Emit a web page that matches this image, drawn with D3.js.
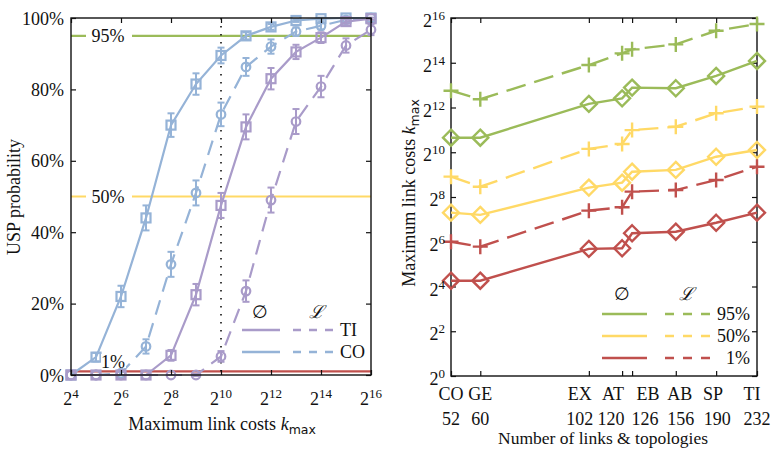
<!DOCTYPE html>
<html><head><meta charset="utf-8">
<script src="https://cdn.jsdelivr.net/npm/d3@7"></script>
<style>
body{margin:0;background:#fff;}
</style></head><body>
<svg id="c" width="774" height="449" font-family="'Liberation Serif','DejaVu Serif','Times New Roman',serif"></svg>
<script>
// ---------- Left chart data ----------
const kExp = [4,5,6,7,8,9,10,11,12,13,14,15,16];          // log2 of k_max
const leftXTicks = [4,6,8,10,12,14,16];
const leftYTicks = [0,20,40,60,80,100];
const coEmpty    = [0,5,22,44,70,81.5,89.5,95,97.5,99.3,99.8,100,100];
const coEmptyErr = [0,1.2,3,3.5,3.3,3,2.2,1,0.8,0.4,0.3,0.2,0.2];
const coL        = [0,0,0.5,8,31,51,73,86.3,92,96.2,97.8,99.5,100];
const coLErr     = [0,0,0.5,2,3.5,3.5,3.3,2.5,2,1.2,1,0.5,0.2];
const tiEmpty    = [0,0,0,0,5.5,22.5,47.5,69.5,83,90.5,94.5,99,99.8];
const tiEmptyErr = [0,0,0,0,1.5,3,3.5,3.5,3,2,1.5,0.6,0.3];
const tiL        = [0,0,0,0,0,0,5.2,23.5,49,71,80.8,92.3,96.7];
const tiLErr     = [0,0,0,0,0,0.3,1.5,3,3.5,3.5,3,2,1.5];
const refLevels  = [95,50,1];
const refLabels  = ["95%","50%","1%"];

// ---------- Right chart data ----------
const topoNames = ["CO","GE","EX","AT","EB","AB","SP","TI"];
const topoLinks = [52,60,102,120,126,156,190,232];
const rightYTicks = [0,2,4,6,8,10,12,14,16];               // log2 exponents
const p95Empty = [10.65,10.65,12.16,12.41,12.89,12.86,13.41,14.08];
const p95L     = [12.75,12.37,13.9,14.42,14.6,14.82,15.43,15.73];
const p50Empty = [7.3,7.2,8.42,8.64,9.13,9.21,9.8,10.1];
const p50L     = [8.91,8.46,10.15,10.37,10.99,11.14,11.74,12.04];
const p1Empty  = [4.26,4.26,5.68,5.71,6.38,6.45,6.85,7.3];
const p1L      = [6.0,5.78,7.39,7.54,8.24,8.31,8.76,9.35];

const GREEN="#9bbb59", YELLOW="#ffd966", RED="#c0504d", BLUE="#95b3d7", PURPLE="#a99bc9";
const SERIF="'Liberation Serif','DejaVu Serif','Times New Roman',serif";

const svg = d3.select("#c");

function txt(g, x, y, s, anchor) {
  return g.append("text").attr("x",x).attr("y",y).attr("text-anchor",anchor||"start")
    .attr("font-family",SERIF).attr("font-size",18).attr("fill","#111").text(s);
}
function supLabel(g, x, y, base, exp, anchor) {
  const t = g.append("text").attr("x",x).attr("y",y).attr("text-anchor",anchor)
    .attr("font-family",SERIF).attr("font-size",18).attr("fill","#111");
  t.append("tspan").text(base);
  t.append("tspan").attr("dy",-7).attr("font-size",13).text(exp);
  return t;
}

// ================= LEFT =================
const xL = d3.scaleLinear().domain([4,16]).range([71,371]);
const yL = d3.scaleLinear().domain([0,100]).range([375,18]);
const gl = svg.append("g");

const refColors=[GREEN,YELLOW,RED];
refLevels.forEach((v,i)=>{
  gl.append("line").attr("x1",xL(4)).attr("x2",xL(16)).attr("y1",yL(v)).attr("y2",yL(v))
    .attr("stroke",refColors[i]).attr("stroke-width",2.2);
});
gl.append("line").attr("x1",xL(10)).attr("x2",xL(10)).attr("y1",yL(100)).attr("y2",yL(0))
  .attr("stroke","#111").attr("stroke-width",1.6).attr("stroke-dasharray","1.6,6.4");

function leftSeries(vals, errs, color, dashed, marker) {
  const pts = kExp.map((k,i)=>({x:k,y:vals[i],e:errs[i]}));
  gl.append("path").datum(pts)
    .attr("d", d3.line().x(d=>xL(d.x)).y(d=>yL(d.y)))
    .attr("fill","none").attr("stroke",color).attr("stroke-width",2.2)
    .attr("stroke-dasharray", dashed ? "15,9" : null);
  pts.forEach(p=>{
    if (p.e>0.2) {
      const cx=xL(p.x), y1=yL(p.y-p.e), y2=yL(Math.min(100.5,p.y+p.e));
      gl.append("line").attr("x1",cx).attr("x2",cx).attr("y1",y1).attr("y2",y2).attr("stroke",color).attr("stroke-width",2);
      [y1,y2].forEach(yy=>gl.append("line").attr("x1",cx-3.5).attr("x2",cx+3.5).attr("y1",yy).attr("y2",yy).attr("stroke",color).attr("stroke-width",2));
    }
    if (marker==="square") {
      gl.append("rect").attr("x",xL(p.x)-4.5).attr("y",yL(p.y)-4.5).attr("width",9).attr("height",9)
        .attr("fill","none").attr("stroke",color).attr("stroke-width",2.2);
    } else {
      gl.append("circle").attr("cx",xL(p.x)).attr("cy",yL(p.y)).attr("r",4.3)
        .attr("fill","none").attr("stroke",color).attr("stroke-width",2.2);
    }
  });
}
leftSeries(coEmpty, coEmptyErr, BLUE, false, "square");
leftSeries(coL, coLErr, BLUE, true, "circle");
leftSeries(tiEmpty, tiEmptyErr, PURPLE, false, "square");
leftSeries(tiL, tiLErr, PURPLE, true, "circle");

[[108,yL(95)+6,86,132,yL(95)-9,18],[108,yL(50)+6,86,132,yL(50)-9,18],[113,368,101,126,354,14]].forEach((a,i)=>{
  gl.append("rect").attr("x",a[2]).attr("y",a[4]).attr("width",a[3]-a[2]).attr("height",a[5]).attr("fill","#fff");
  txt(gl, a[0], a[1], refLabels[i], "middle");
});

gl.append("rect").attr("x",xL(4)).attr("y",yL(100)).attr("width",xL(16)-xL(4)).attr("height",yL(0)-yL(100))
  .attr("fill","none").attr("stroke","#111").attr("stroke-width",1.4);
const axB = gl.append("g").attr("transform",`translate(0,${yL(0)})`)
  .call(d3.axisBottom(xL).tickValues(leftXTicks).tickSizeInner(-5).tickSizeOuter(0).tickFormat(""));
const axT = gl.append("g").attr("transform",`translate(0,${yL(100)})`)
  .call(d3.axisTop(xL).tickValues(leftXTicks).tickSizeInner(-5).tickSizeOuter(0).tickFormat(""));
const axLft = gl.append("g").attr("transform",`translate(${xL(4)},0)`)
  .call(d3.axisLeft(yL).tickValues(leftYTicks).tickSizeInner(-5).tickSizeOuter(0).tickFormat(""));
const axR = gl.append("g").attr("transform",`translate(${xL(16)},0)`)
  .call(d3.axisRight(yL).tickValues(leftYTicks).tickSizeInner(-5).tickSizeOuter(0).tickFormat(""));
[axB,axT,axLft,axR].forEach(a=>{a.select(".domain").remove(); a.selectAll("line").attr("stroke","#111").attr("stroke-width",1.2);});

leftXTicks.forEach(t=>supLabel(gl, xL(t), 405, "2", t, "middle"));
leftYTicks.forEach(t=>txt(gl, 64, yL(t)+6.5, t+"%", "end"));

const tl = txt(gl, 222, 430, "", "middle");
tl.append("tspan").text("Maximum link costs ");
tl.append("tspan").attr("font-style","italic").text("k");
tl.append("tspan").attr("dy",4).attr("font-size",12.5).attr("font-family","'DejaVu Sans',sans-serif").text("max");
txt(gl, 0, 0, "USP probability", "middle").attr("x",null).attr("y",null).attr("transform","translate(20,197) rotate(-90)");

txt(gl, 260, 318, "∅", "middle");
txt(gl, 316, 318, "ℒ", "middle").attr("font-style","italic");
[["TI",PURPLE,330],["CO",BLUE,352]].forEach(r=>{
  gl.append("line").attr("x1",242).attr("x2",280).attr("y1",r[2]).attr("y2",r[2]).attr("stroke",r[1]).attr("stroke-width",2.4);
  gl.append("line").attr("x1",293).attr("x2",334).attr("y1",r[2]).attr("y2",r[2]).attr("stroke",r[1]).attr("stroke-width",2.4).attr("stroke-dasharray","8,8");
  txt(gl, 340, r[2]+6, r[0]);
});

// ================= RIGHT =================
const xR = d3.scaleLog().domain([52,232]).range([451,757]);
const yR = d3.scaleLinear().domain([0,16]).range([376,18]);
const gr = svg.append("g");

gr.append("rect").attr("x",xR(52)).attr("y",yR(16)).attr("width",xR(232)-xR(52)).attr("height",yR(0)-yR(16))
  .attr("fill","none").attr("stroke","#111").attr("stroke-width",1.4);
const rB = gr.append("g").attr("transform",`translate(0,${yR(0)})`)
  .call(d3.axisBottom(xR).tickValues(topoLinks).tickSizeInner(-5).tickSizeOuter(0).tickFormat(""));
const rT = gr.append("g").attr("transform",`translate(0,${yR(16)})`)
  .call(d3.axisTop(xR).tickValues(topoLinks).tickSizeInner(-5).tickSizeOuter(0).tickFormat(""));
const rL = gr.append("g").attr("transform",`translate(${xR(52)},0)`)
  .call(d3.axisLeft(yR).tickValues(rightYTicks).tickSizeInner(-5).tickSizeOuter(0).tickFormat(""));
const rR = gr.append("g").attr("transform",`translate(${xR(232)},0)`)
  .call(d3.axisRight(yR).tickValues(rightYTicks).tickSizeInner(-5).tickSizeOuter(0).tickFormat(""));
[rB,rT,rL,rR].forEach(a=>{a.select(".domain").remove(); a.selectAll("line").attr("stroke","#111").attr("stroke-width",1.2);});

function rightSeries(vals, color, dashed) {
  const pts = topoLinks.map((n,i)=>({x:n,y:vals[i]}));
  gr.append("path").datum(pts)
    .attr("d", d3.line().x(d=>xR(d.x)).y(d=>yR(d.y)))
    .attr("fill","none").attr("stroke",color).attr("stroke-width",2.4)
    .attr("stroke-dasharray", dashed ? "20,9" : null);
  pts.forEach(p=>{
    const cx=xR(p.x), cy=yR(p.y);
    const d = dashed ? `M${cx-7.5},${cy}H${cx+7.5}M${cx},${cy-7.5}V${cy+7.5}`
                     : `M${cx},${cy-8}L${cx+8},${cy}L${cx},${cy+8}L${cx-8},${cy}Z`;
    gr.append("path").attr("d",d).attr("fill","none").attr("stroke",color).attr("stroke-width",2.4);
  });
}
rightSeries(p1Empty, RED, false);
rightSeries(p1L, RED, true);
rightSeries(p50Empty, YELLOW, false);
rightSeries(p50L, YELLOW, true);
rightSeries(p95Empty, GREEN, false);
rightSeries(p95L, GREEN, true);

rightYTicks.forEach(t=>supLabel(gr, 445, yR(t)+9, "2", t, "end"));
// tick labels are nudged sideways (as in the original) so crowded ones do not collide
const nameShift = [0,0,-9,-9,16,4,-3,-5];
const numShift  = [0,0,-9,-11,13,5,1,0];
topoLinks.forEach((n,i)=>{
  txt(gr, xR(n)+nameShift[i], 400, topoNames[i], "middle");
  txt(gr, xR(n)+numShift[i], 425, String(n), "middle");
});
txt(gr, 603, 444, "Number of links & topologies", "middle").attr("font-size",17.5);
const tr = txt(gr, 0, 0, "", "middle").attr("x",null).attr("y",null).attr("transform","translate(415,193) rotate(-90)");
tr.append("tspan").text("Maximum link costs ");
tr.append("tspan").attr("font-style","italic").text("k");
tr.append("tspan").attr("dy",4).attr("font-size",12.5).attr("font-family","'DejaVu Sans',sans-serif").text("max");

txt(gr, 622, 300, "∅", "middle");
txt(gr, 686, 300, "ℒ", "middle").attr("font-style","italic");
[["95%",GREEN,314],["50%",YELLOW,336],["1%",RED,358]].forEach(r=>{
  gr.append("line").attr("x1",602).attr("x2",647).attr("y1",r[2]).attr("y2",r[2]).attr("stroke",r[1]).attr("stroke-width",2.4);
  gr.append("line").attr("x1",665).attr("x2",711).attr("y1",r[2]).attr("y2",r[2]).attr("stroke",r[1]).attr("stroke-width",2.4).attr("stroke-dasharray","9,9");
  txt(gr, 750, r[2]+6, r[0], "end");
});
</script>
</body></html>
